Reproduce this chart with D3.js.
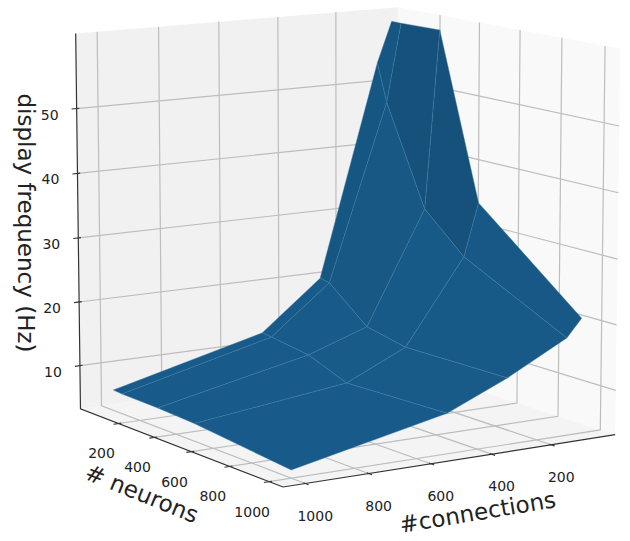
<!DOCTYPE html>
<html>
<head>
<meta charset="utf-8">
<script src="https://cdn.jsdelivr.net/npm/d3@7"></script>
<style>
html,body{margin:0;padding:0;background:#fff;}
svg{display:block;}
text{font-family:"DejaVu Sans",sans-serif;fill:#222;}
</style>
</head>
<body>
<svg id="chart" width="630" height="541"></svg>
<script>
// data
var connections = [1000, 500, 300, 100, 50];
var neurons = [1000, 500, 300, 100, 50];
// one row per neuron value, same order as connections
var freq1000 = [4.4, 9.3, 13.3, 18.1, 20.8];
var freq500 = [5.9, 8.8, 13.1, 26.1, 34.3];
var freq300 = [6.2, 11.2, 14.4, 32.0, 60.0];
var freq100 = [6.3, 12.1, 19.6, 47.5, 59.9];
var freq50 = [6.4, 12.3, 19.9, 53.5, 59.9];
var freqRows = [freq1000, freq500, freq300, freq100, freq50];

var connTicks = [200, 400, 600, 800, 1000];
var neuronTicks = [200, 400, 600, 800, 1000];
var freqTicks = [10, 20, 30, 40, 50];

// data to the unit box
var px = d3.scaleLinear().domain([-19, 1069]).range([0, 1]);
var qy = d3.scaleLinear().domain([-19, 1069]).range([0, 1]);
var wz = d3.scaleLinear().domain([3.2, 61.5]).range([0, 1]);

// camera
var turn = 33 * Math.PI / 180;
var elev = 10.5 * Math.PI / 180;
var dist = 10;
var sx = d3.scaleLinear().domain([-1, 1]).range([344 - 390, 344 + 390]);
var sy = d3.scaleLinear().domain([-1, 1]).range([233 + 387, 233 - 387]);

function depth(p, q, w) {
    var d = Math.sin(turn) * (p - .5) + Math.cos(turn) * (q - .5);
    return d * Math.cos(elev) + (w - .5) * Math.sin(elev);
}

function project(p, q, w) {
    var x = -Math.cos(turn) * (p - .5) + Math.sin(turn) * (q - .5);
    var d = Math.sin(turn) * (p - .5) + Math.cos(turn) * (q - .5);
    var up = (w - .5) * Math.cos(elev) - d * Math.sin(elev);
    var f = dist / (dist - depth(p, q, w));
    return [sx(x * f), sy(up * f)];
}

var svg = d3.select("#chart");
var path = d3.line();

function line3d(g, pts, color, width) {
    g.append("path")
        .attr("d", path(pts.map(function(a) { return project(a[0], a[1], a[2]); })))
        .attr("fill", "none")
        .attr("stroke", color)
        .attr("stroke-width", width);
}

function wall(pts, color) {
    svg.append("path")
        .attr("d", path(pts.map(function(a) { return project(a[0], a[1], a[2]); })) + "Z")
        .attr("fill", color);
}

// panes
wall([[1, 0, 0], [0, 0, 0], [0, 0, 1], [1, 0, 1]], "#f1f1f1");
wall([[0, 0, 0], [0, 1, 0], [0, 1, 1], [0, 0, 1]], "#f9f9f9");
wall([[1, 0, 0], [1, 1, 0], [0, 1, 0], [0, 0, 0]], "#f4f4f4");

// grid
var grid = svg.append("g");
var gridColor = "#bdbdbd";
connTicks.forEach(function(c) {
    var p = px(c);
    line3d(grid, [[p, 1, 0], [p, 0, 0], [p, 0, 1]], gridColor, 1.2);
});
neuronTicks.forEach(function(n) {
    var q = qy(n);
    line3d(grid, [[1, q, 0], [0, q, 0], [0, q, 1]], gridColor, 1.2);
});
freqTicks.forEach(function(z) {
    var w = wz(z);
    line3d(grid, [[1, 0, w], [0, 0, w], [0, 1, w]], gridColor, 1.2);
});

// axis lines and tick marks
var axes = svg.append("g");
var axisColor = "#333";
line3d(axes, [[1, 0, 1], [1, 0, 0], [1, 1, 0], [0, 1, 0]], axisColor, 1.2);
connTicks.forEach(function(c) {
    line3d(axes, [[px(c), .992, 0], [px(c), 1.015, 0]], axisColor, 1.1);
});
neuronTicks.forEach(function(n) {
    line3d(axes, [[.992, qy(n), 0], [1.015, qy(n), 0]], axisColor, 1.1);
});
freqTicks.forEach(function(z) {
    line3d(axes, [[.992, 0, wz(z)], [1.015, 0, wz(z)]], axisColor, 1.1);
});

// surface facets, far ones first
var base = d3.rgb("#1f77b4");
var light = [-1 / 1.5, -1 / 1.5, .5 / 1.5];
var facets = [];
for (var i = 0; i < neurons.length - 1; i++) {
    for (var j = 0; j < connections.length - 1; j++) {
        var corners = [[i, j], [i, j + 1], [i + 1, j + 1], [i + 1, j]].map(function(a) {
            return {c: connections[a[1]], n: neurons[a[0]], z: freqRows[a[0]][a[1]]};
        });
        facets.push(corners);
    }
}

function shade(f) {
    // normal in data units, the way a surface plot lights it
    var a = [f[2].c - f[0].c, f[2].n - f[0].n, (f[2].z - f[0].z) * .8];
    var b = [f[3].c - f[1].c, f[3].n - f[1].n, (f[3].z - f[1].z) * .8];
    var n = [a[1] * b[2] - a[2] * b[1], a[2] * b[0] - a[0] * b[2], a[0] * b[1] - a[1] * b[0]];
    if (n[2] < 0) n = n.map(function(v) { return -v; });
    var len = Math.sqrt(n[0] * n[0] + n[1] * n[1] + n[2] * n[2]);
    var s = (n[0] * light[0] + n[1] * light[1] + n[2] * light[2]) / len;
    var k = .3 + .7 * (s + 1) / 2;
    return d3.rgb(base.r * k, base.g * k, base.b * k).formatHex();
}

function meanDepth(f) {
    return d3.mean(f, function(v) { return depth(px(v.c), qy(v.n), wz(v.z)); });
}

facets.sort(function(a, b) { return meanDepth(a) - meanDepth(b); });

svg.append("g").selectAll("path")
    .data(facets)
    .enter().append("path")
    .attr("d", function(f) {
        return path(f.map(function(v) { return project(px(v.c), qy(v.n), wz(v.z)); })) + "Z";
    })
    .attr("fill", shade)
    .attr("stroke", "#3f7ca6")
    .attr("stroke-width", .4)
    .attr("stroke-linejoin", "round");

// tick labels
var labels = svg.append("g").attr("font-size", 14).attr("text-anchor", "middle");
connTicks.forEach(function(c) {
    var t = project(px(c), 1, 0);
    labels.append("text").attr("x", t[0] + 10).attr("y", t[1] + 37).text(c);
});
neuronTicks.forEach(function(n) {
    var t = project(1, qy(n), 0);
    labels.append("text").attr("x", t[0] - 17).attr("y", t[1] + 35).text(n);
});
freqTicks.forEach(function(z) {
    var t = project(1, 0, wz(z));
    labels.append("text").attr("x", t[0] - 27).attr("y", t[1] + 11).text(z);
});

// axis titles
svg.append("text").attr("font-size", 23).attr("text-anchor", "middle")
    .attr("transform", "translate(18,223) rotate(90)").text("display frequency (Hz)");
svg.append("text").attr("font-size", 23).attr("text-anchor", "middle")
    .attr("transform", "translate(139,501) rotate(22)").text("# neurons");
svg.append("text").attr("font-size", 23).attr("text-anchor", "middle")
    .attr("transform", "translate(479,520) rotate(-9.5)").text("#connections");
</script>
</body>
</html>
